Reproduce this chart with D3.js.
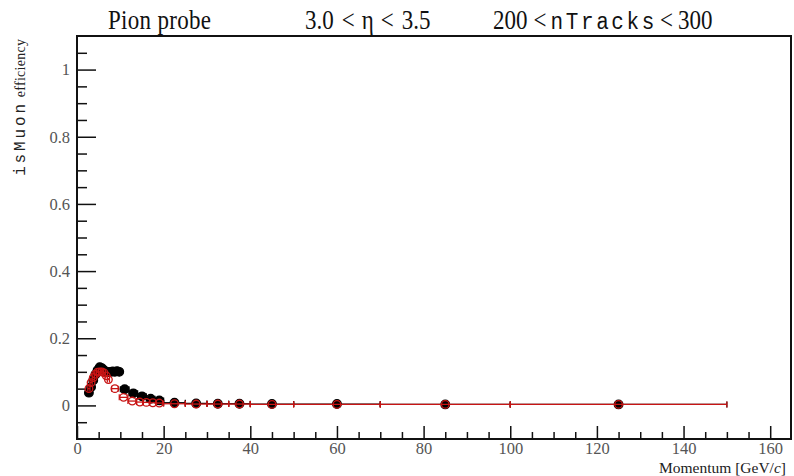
<!DOCTYPE html>
<html>
<head>
<meta charset="utf-8">
<script src="https://cdn.jsdelivr.net/npm/d3@7"></script>
<style>
    body { margin: 0; background: #fff; }
    text { font-family: "Liberation Serif", "Times New Roman", "DejaVu Serif", serif; }
    .mono { font-family: "Liberation Mono", "Courier New", "DejaVu Sans Mono", monospace; }
</style>
</head>
<body>
<div id="chart"></div>
<script>
// black series (filled markers)
var blackP = [2.75, 3.25, 3.75, 4.25, 4.75, 5.25, 5.75, 6.25, 6.75, 7.25, 7.75, 8.25, 8.75, 9.25, 9.75,
    11, 13, 15, 17, 19, 22.5, 27.5, 32.5, 37.5, 45, 60, 85, 125];
var blackW = [0.25, 0.25, 0.25, 0.25, 0.25, 0.25, 0.25, 0.25, 0.25, 0.25, 0.25, 0.25, 0.25, 0.25, 0.25,
    1, 1, 1, 1, 1, 2.5, 2.5, 2.5, 2.5, 5, 10, 15, 25];
var blackEff = [0.038, 0.055, 0.075, 0.092, 0.105, 0.114, 0.111, 0.105, 0.1, 0.099, 0.1, 0.101, 0.1, 0.102, 0.1,
    0.048, 0.036, 0.027, 0.02, 0.015, 0.008, 0.006, 0.005, 0.005, 0.004, 0.004, 0.003, 0.003];

// red series (open markers)
var redP = [2.75, 3.25, 3.75, 4.25, 4.75, 5.25, 5.75, 6.25, 6.75, 7.25, 8.75, 10.75, 12.75, 14.5, 16, 17.5, 19,
    22.5, 27.5, 32.5, 37.5, 45, 60, 85, 125];
var redW = [0.25, 0.25, 0.25, 0.25, 0.25, 0.25, 0.25, 0.25, 0.25, 0.25, 0.75, 1, 1, 0.75, 0.75, 0.75, 0.75,
    2.5, 2.5, 2.5, 2.5, 5, 10, 15, 25];
var redEff = [0.05, 0.068, 0.083, 0.093, 0.099, 0.1, 0.1, 0.097, 0.088, 0.077, 0.05, 0.024, 0.013, 0.01, 0.009,
    0.008, 0.007, 0.005, 0.004, 0.004, 0.004, 0.003, 0.003, 0.003, 0.003];

var xMajor = [0, 20, 40, 60, 80, 100, 120, 140, 160];
var yMajor = [0, 0.2, 0.4, 0.6, 0.8, 1];

var margin = { top: 36, right: 3, bottom: 37, left: 77 },
    width = 794 - margin.left - margin.right,
    height = 476 - margin.top - margin.bottom;

var svg = d3
    .select("#chart")
    .append("svg")
    .attr("width", 794)
    .attr("height", 476)
    .style("background", "#fff");

var g = svg.append("g").attr("transform", "translate(" + margin.left + "," + margin.top + ")");

var x = d3.scaleLinear().domain([0, 164.8]).range([0, width]);
var y = d3.scaleLinear().domain([-0.1, 1.1]).range([height, 0]);

// minor ticks every 5 GeV and every 0.05
var xMinor = d3.range(5, 165, 5).filter((d) => d % 20 !== 0);
var yMinor = d3.range(-0.05, 1.1, 0.05).filter((d) => Math.abs(Math.round(d * 5) - d * 5) > 1e-6);

g.append("g")
    .attr("transform", "translate(0," + height + ")")
    .call(d3.axisBottom(x).tickValues(xMinor).tickSizeInner(-7).tickSizeOuter(0).tickFormat(""));
g.append("g")
    .attr("transform", "translate(0," + height + ")")
    .call(d3.axisBottom(x).tickValues(xMajor).tickSizeInner(-13).tickSizeOuter(0).tickPadding(3).tickFormat((d) => d));

g.append("g")
    .call(d3.axisLeft(y).tickValues(yMinor).tickSizeInner(-10).tickSizeOuter(0).tickFormat(""));
g.append("g")
    .call(d3.axisLeft(y).tickValues(yMajor).tickSizeInner(-19).tickSizeOuter(0).tickPadding(7).tickFormat((d) => d));

g.selectAll(".domain").remove();
g.selectAll(".tick line").attr("stroke", "#111").attr("stroke-width", 1.5);
g.selectAll("g").attr("font-family", null);
g.selectAll(".tick text")
    .attr("fill", "#555")
    .style("font-size", "16.5px");

// frame
g.append("rect")
    .attr("width", width)
    .attr("height", height)
    .attr("fill", "none")
    .attr("stroke", "#111")
    .attr("stroke-width", 2);

function drawSeries(ps, ws, effs, color, filled) {
    var pts = ps.map((p, i) => ({ p: p, w: ws[i], e: effs[i] }));
    var s = g.append("g");
    s.selectAll(".hbar")
        .data(pts)
        .enter()
        .append("line")
        .attr("x1", (d) => x(d.p - d.w))
        .attr("x2", (d) => x(d.p + d.w))
        .attr("y1", (d) => y(d.e))
        .attr("y2", (d) => y(d.e))
        .attr("stroke", color)
        .attr("stroke-width", 1.3);
    // end caps
    s.selectAll(".cap")
        .data(pts.flatMap((d) => [{ p: d.p - d.w, e: d.e }, { p: d.p + d.w, e: d.e }]))
        .enter()
        .append("line")
        .attr("x1", (d) => x(d.p))
        .attr("x2", (d) => x(d.p))
        .attr("y1", (d) => y(d.e) - 3)
        .attr("y2", (d) => y(d.e) + 3)
        .attr("stroke", color)
        .attr("stroke-width", 1.2);
    s.selectAll(".mark")
        .data(pts)
        .enter()
        .append("circle")
        .attr("cx", (d) => x(d.p))
        .attr("cy", (d) => y(d.e))
        .attr("r", filled ? 4.3 : 3.8)
        .attr("fill", filled ? color : "none")
        .attr("stroke", color)
        .attr("stroke-width", 1.3);
}

drawSeries(blackP, blackW, blackEff, "#000", true);
drawSeries(redP, redW, redEff, "#c81414", false);

// title, slightly stretched vertically like the original
var tg = svg.append("g").attr("transform", "translate(0,29) scale(1,1.15)")
    .style("font-size", "23px").attr("fill", "#111");
tg.append("text").attr("x", 108).attr("textLength", 103).text("Pion probe");
var t2 = tg.append("text").attr("x", 305);
t2.append("tspan").text("3.0");
t2.append("tspan").attr("dx", 8).text("<");
t2.append("tspan").attr("dx", 7).text("\u03b7");
t2.append("tspan").attr("dx", 7).text("<");
t2.append("tspan").attr("dx", 8).text("3.5");
var t3 = tg.append("text").attr("x", 493);
t3.append("tspan").text("200");
t3.append("tspan").attr("dx", 6).text("<");
t3.append("tspan").attr("dx", 4).attr("class", "mono").style("font-size", "21px").attr("textLength", 104).text("nTracks");
t3.append("tspan").attr("dx", 3).text("<");
t3.append("tspan").attr("dx", 5).text("300");

// y label
var yl = svg.append("text")
    .attr("transform", "translate(25,39) rotate(-90)")
    .attr("text-anchor", "end")
    .style("font-size", "14px")
    .attr("fill", "#222");
yl.append("tspan").attr("class", "mono").style("font-size", "16px").attr("textLength", 72).text("isMuon");
yl.append("tspan").attr("textLength", 62).text(" efficiency");

// x label
var xl = svg.append("text")
    .attr("x", 786)
    .attr("y", 473)
    .attr("text-anchor", "end")
    .style("font-size", "15.5px")
    .attr("fill", "#222");
xl.append("tspan").text("Momentum [GeV/");
xl.append("tspan").style("font-style", "italic").text("c");
xl.append("tspan").text("]");
</script>
</body>
</html>
